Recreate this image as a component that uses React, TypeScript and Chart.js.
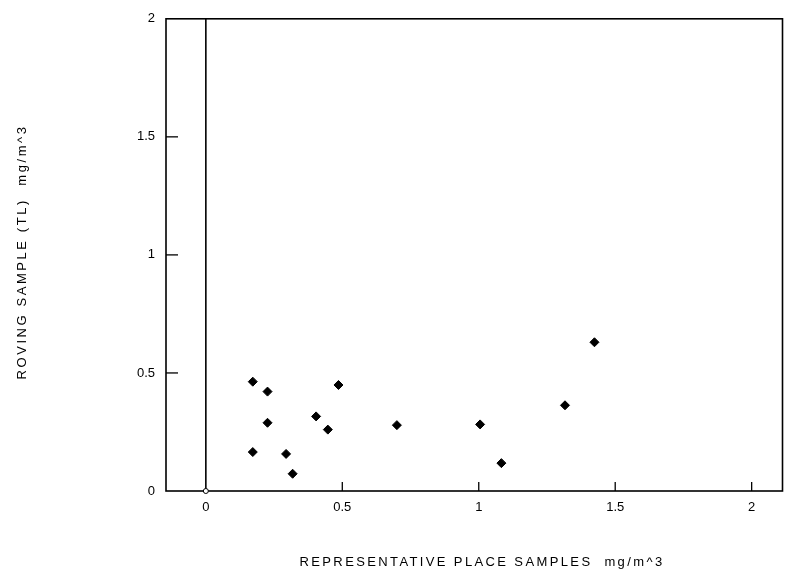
import { useEffect, useRef } from "react";
import { Chart, registerables } from "chart.js";

Chart.register(...registerables);

// Representative place samples (mg/m^3)
const placeSamples = [0.172, 0.226, 0.486, 0.404, 0.447, 0.226, 0.172, 0.294, 0.318, 0.7, 1.005, 1.083, 1.316, 1.424];
// Roving sample (TL) (mg/m^3)
const rovingSamples = [0.463, 0.421, 0.449, 0.316, 0.26, 0.289, 0.165, 0.157, 0.073, 0.279, 0.282, 0.118, 0.363, 0.63];

const xTickValues = [0, 0.5, 1, 1.5, 2];
const yTickValues = [0, 0.5, 1, 1.5, 2];
const xTitle = "REPRESENTATIVE PLACE SAMPLES  mg/m^3";
const yTitle = "ROVING SAMPLE (TL)  mg/m^3";

const FONT = "'Liberation Sans', Arial, sans-serif";

function drawSpaced(ctx: CanvasRenderingContext2D, text: string, target: number) {
  (ctx as any).letterSpacing = "0px";
  const w = ctx.measureText(text).width;
  const sp = Math.max(0, (target - w) / text.length);
  (ctx as any).letterSpacing = sp + "px";
  const w2 = ctx.measureText(text).width;
  ctx.fillText(text, -w2 / 2, 0);
  (ctx as any).letterSpacing = "0px";
}

const framePlugin = {
  id: "frame",
  afterDraw(chart: any) {
    const { ctx, chartArea } = chart;
    const xs = chart.scales.x;
    const ys = chart.scales.y;
    ctx.save();
    ctx.strokeStyle = "#000";
    ctx.lineWidth = 1.6;
    ctx.strokeRect(chartArea.left, chartArea.top, chartArea.right - chartArea.left, chartArea.bottom - chartArea.top);
    // vertical zero line
    const x0 = xs.getPixelForValue(0);
    ctx.beginPath();
    ctx.moveTo(x0, chartArea.top);
    ctx.lineTo(x0, chartArea.bottom);
    ctx.stroke();
    // x ticks (inward, upward)
    ctx.lineWidth = 1.3;
    xTickValues.forEach((v) => {
      if (v === 0) return;
      const px = xs.getPixelForValue(v);
      ctx.beginPath();
      ctx.moveTo(px, chartArea.bottom);
      ctx.lineTo(px, chartArea.bottom - 9);
      ctx.stroke();
    });
    // y ticks (inward)
    yTickValues.forEach((v) => {
      if (v === 0 || v === 2) return;
      const py = ys.getPixelForValue(v);
      ctx.beginPath();
      ctx.moveTo(chartArea.left, py);
      ctx.lineTo(chartArea.left + 12, py);
      ctx.stroke();
    });
    // origin marker
    const y0 = ys.getPixelForValue(0);
    ctx.beginPath();
    ctx.arc(x0, y0, 2.5, 0, Math.PI * 2);
    ctx.fillStyle = "#fff";
    ctx.fill();
    ctx.lineWidth = 1;
    ctx.stroke();
    // titles
    ctx.fillStyle = "#000";
    ctx.font = "13px " + FONT;
    ctx.textBaseline = "middle";
    ctx.textAlign = "left";
    ctx.save();
    ctx.translate(482, 562);
    drawSpaced(ctx, xTitle, 365);
    ctx.restore();
    ctx.save();
    ctx.translate(22, 252);
    ctx.rotate(-Math.PI / 2);
    drawSpaced(ctx, yTitle, 255);
    ctx.restore();
    ctx.restore();
  },
};

export default function App() {
  const ref = useRef<HTMLCanvasElement | null>(null);
  useEffect(() => {
    if (!ref.current) return;
    const data = placeSamples.map((x, i) => ({ x, y: rovingSamples[i] }));
    const chart = new Chart(ref.current, {
      type: "scatter",
      data: {
        datasets: [
          {
            data,
            pointStyle: "rectRot",
            pointRadius: 4.5,
            backgroundColor: "#000",
            borderColor: "#000",
            borderWidth: 1,
          },
        ],
      },
      options: {
        animation: false,
        responsive: false,
        maintainAspectRatio: false,
        layout: { padding: { left: 0, top: 16, right: -4, bottom: 0 } },
        plugins: { legend: { display: false }, tooltip: { enabled: false } },
        scales: {
          x: {
            type: "linear",
            min: -0.146,
            max: 2.113,
            grid: { display: false, drawTicks: false },
            border: { display: false },
            afterFit: (s: any) => {
              s.height = 92;
              s.paddingRight = 0;
              s.paddingLeft = 0;
            },
            afterBuildTicks: (s: any) => {
              s.ticks = xTickValues.map((v) => ({ value: v }));
            },
            ticks: {
              padding: 9,
              color: "#000",
              font: { size: 13, family: FONT },
              callback: (v: any) => String(v),
              maxRotation: 0,
            },
          },
          y: {
            type: "linear",
            min: 0,
            max: 2,
            grid: { display: false, drawTicks: false },
            border: { display: false },
            afterFit: (s: any) => {
              s.width = 166;
            },
            afterBuildTicks: (s: any) => {
              s.ticks = yTickValues.map((v) => ({ value: v }));
            },
            ticks: {
              padding: 11,
              color: "#000",
              font: { size: 13, family: FONT },
              callback: (v: any) => String(v),
            },
          },
        },
      },
      plugins: [framePlugin],
    });
    return () => chart.destroy();
  }, []);
  return (
    <div style={{ position: "fixed", left: 0, top: 0, width: 788, height: 583, background: "#fff" }}>
      <canvas ref={ref} width={788} height={583} style={{ width: 788, height: 583, display: "block" }} />
    </div>
  );
}
